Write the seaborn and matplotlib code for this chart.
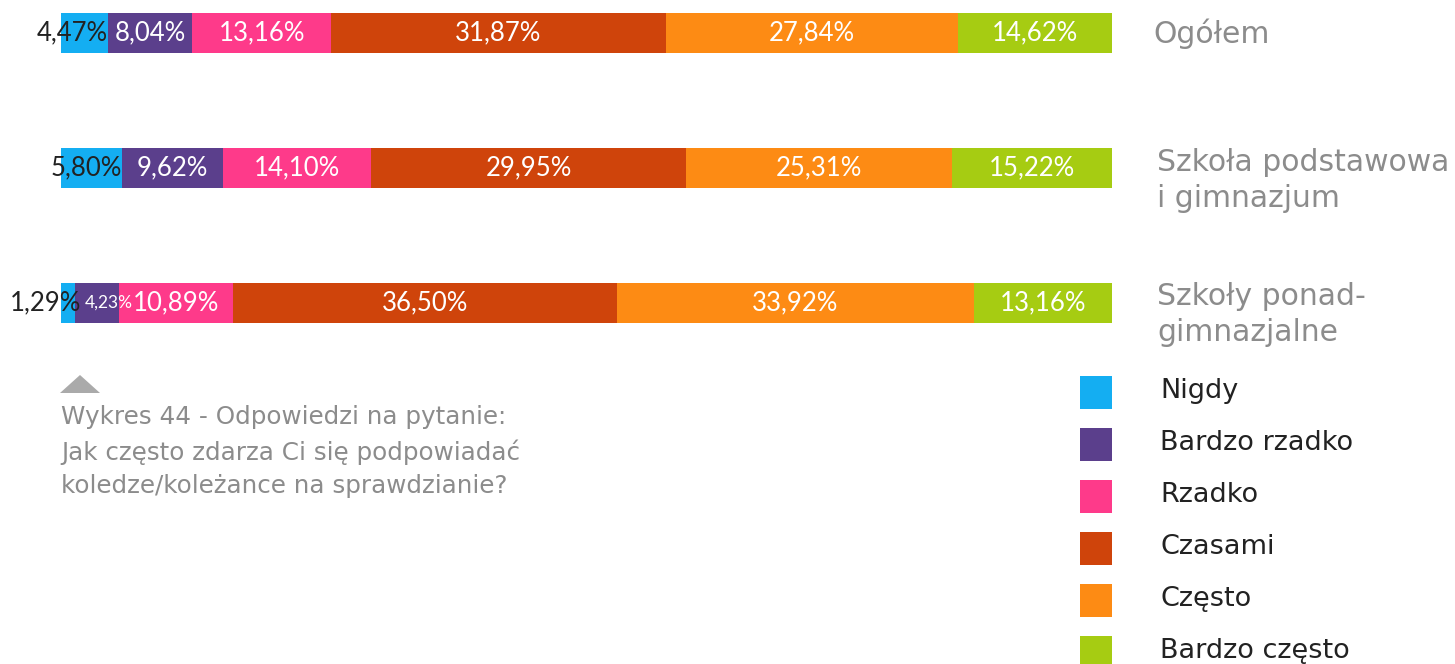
import numpy as np
import pandas as pd
import matplotlib.pyplot as plt
import matplotlib.patches as mpatches
import seaborn as sns

groups = ['Ogółem', 'Szkoła podstawowa\ni gimnazjum', 'Szkoły ponad-\ngimnazjalne']
answers = ['Nigdy', 'Bardzo rzadko', 'Rzadko', 'Czasami', 'Często', 'Bardzo często']
nigdy = [4.47, 5.80, 1.29]
bardzo_rzadko = [8.04, 9.62, 4.23]
rzadko = [13.16, 14.10, 10.89]
czasami = [31.87, 29.95, 36.50]
czesto = [27.84, 25.31, 33.92]
bardzo_czesto = [14.62, 15.22, 13.16]
colors = ['#14aef2', '#5b3f8c', '#fe3a8a', '#cf440b', '#fd8b14', '#a6cc12']

values = np.array([nigdy, bardzo_rzadko, rzadko, czasami, czesto, bardzo_czesto])
cum = values.cumsum(axis=0)

sns.set_theme(style='white')
plt.rcParams['font.family'] = ['Lato', 'DejaVu Sans']

W, H = 1455, 664
fig = plt.figure(figsize=(W / 100, H / 100), dpi=100)
# axes: x 61..1112 px, y from top of figure down to 370.5 px
ax = fig.add_axes([61 / W, (H - 370.5) / H, 1051 / W, 370.5 / H])

# stacked bars: draw cumulative totals from the last answer backwards
for i in range(len(answers) - 1, -1, -1):
    df = pd.DataFrame({'group': groups, 'value': cum[i]})
    sns.barplot(data=df, x='value', y='group', color=colors[i], width=40 / 135,
                saturation=1, linewidth=0, ax=ax, orient='h')

ax.set_xlim(0, 100)
ax.set_ylim(2.5, -33 / 135)
ax.axis('off')

def fmt(v):
    return f'{v:.2f}%'.replace('.', ',')

for j in range(len(groups)):
    for i in range(len(answers)):
        v = values[i, j]
        end = cum[i, j]
        if i == 0:
            ax.text(end + (0.6 if v < 2 else 0), j, fmt(v), ha='right', va='center',
                    fontsize=18.5, color='#222222')
        elif v < 5:
            ax.text(end - v + 0.95, j, fmt(v), ha='left', va='center',
                    fontsize=12.5, color='white')
        else:
            ax.text(end - v / 2, j, fmt(v), ha='center', va='center',
                    fontsize=18.5, color='white')

side = ['DejaVu Sans']
# group labels on the right
fig.text(1153 / W, 1 - 34 / H, groups[0], ha='left', va='center', family=side,
         fontsize=21.5, color='#8c8c8c')
for j, top in [(1, 148), (2, 282)]:
    fig.text(1157 / W, 1 - top / H, groups[j], ha='left', va='top', fontsize=21.5,
             family=side, color='#8c8c8c', linespacing=1.32)

# legend
for i, lab in enumerate(answers):
    ytop = 376 + 52 * i
    fig.patches.append(mpatches.Rectangle((1080 / W, 1 - (ytop + 33) / H), 32 / W, 33 / H,
                                          transform=fig.transFigure, color=colors[i], lw=0))
    fig.text(1160 / W, 1 - (ytop + 15) / H, lab, ha='left', va='center', fontsize=19.5,
             family=side, color='#222222')

# caption with small triangle
fig.patches.append(mpatches.Polygon([[60 / W, 1 - 393 / H], [100 / W, 1 - 393 / H],
                                     [80 / W, 1 - 375 / H]], closed=True,
                                    transform=fig.transFigure, color='#aaaaaa', lw=0))
fig.text(61 / W, 1 - 405 / H,
         'Wykres 44 - Odpowiedzi na pytanie:\nJak często zdarza Ci się podpowiadać\nkoledze/koleżance na sprawdzianie?',
         ha='left', va='top', fontsize=17.7, family=side,
         color='#8c8c8c', linespacing=1.5)

fig.savefig('out.png', dpi=100)
